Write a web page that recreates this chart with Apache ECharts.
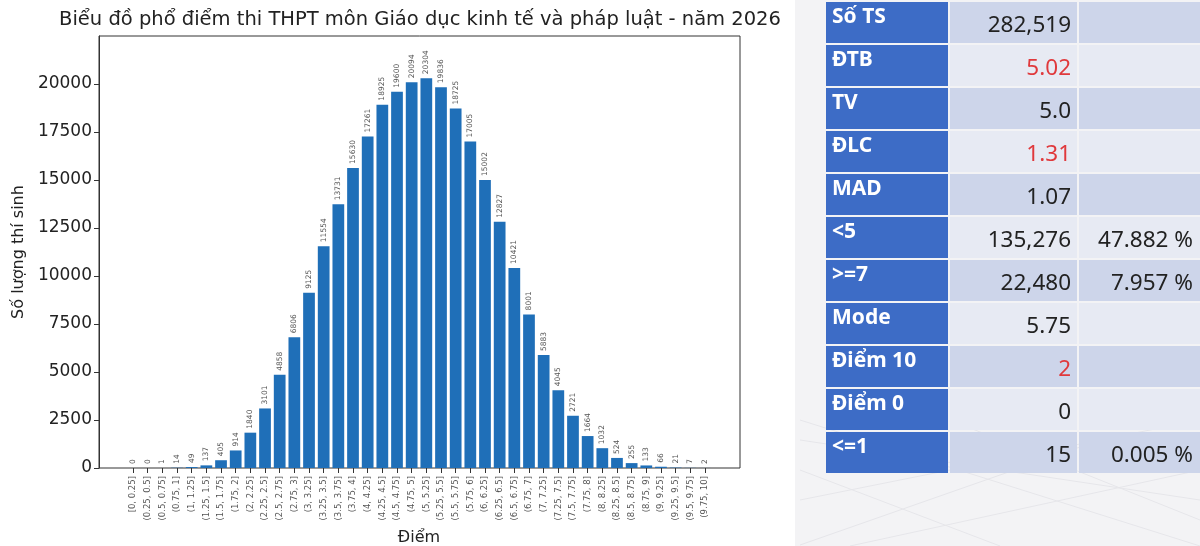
<!DOCTYPE html>
<html>
<head>
<meta charset="utf-8">
<script src="https://cdn.jsdelivr.net/npm/echarts@6/dist/echarts.min.js"></script>
<style>
html,body{margin:0;padding:0;background:#ffffff;}
#chart{width:1200px;height:546px;}
</style>
</head>
<body>
<div id="chart"></div>
<script>
const titleText = 'Biểu đồ phổ điểm thi THPT môn Giáo dục kinh tế và pháp luật - năm 2026';
const xAxisTitle = 'Điểm';
const yAxisTitle = 'Số lượng thí sinh';
const categories = ['[0, 0.25]','(0.25, 0.5]','(0.5, 0.75]','(0.75, 1]','(1, 1.25]','(1.25, 1.5]','(1.5, 1.75]','(1.75, 2]',
  '(2, 2.25]','(2.25, 2.5]','(2.5, 2.75]','(2.75, 3]','(3, 3.25]','(3.25, 3.5]','(3.5, 3.75]','(3.75, 4]',
  '(4, 4.25]','(4.25, 4.5]','(4.5, 4.75]','(4.75, 5]','(5, 5.25]','(5.25, 5.5]','(5.5, 5.75]','(5.75, 6]',
  '(6, 6.25]','(6.25, 6.5]','(6.5, 6.75]','(6.75, 7]','(7, 7.25]','(7.25, 7.5]','(7.5, 7.75]','(7.75, 8]',
  '(8, 8.25]','(8.25, 8.5]','(8.5, 8.75]','(8.75, 9]','(9, 9.25]','(9.25, 9.5]','(9.5, 9.75]','(9.75, 10]'];
const counts = [0,0,1,14,49,137,405,914,1840,3101,4858,6806,9125,11554,13731,15630,17261,18925,19600,20094,
  20304,19836,18725,17005,15002,12827,10421,8001,5883,4045,2721,1664,1032,524,255,133,66,21,7,2];
const yTicks = [0,2500,5000,7500,10000,12500,15000,17500,20000];
const yMin = 0, yMax = 22500, yStep = 2500;

const tableLabels = ['Số TS','ĐTB','TV','ĐLC','MAD','<5','>=7','Mode','Điểm 10','Điểm 0','<=1'];
const tableValues = ['282,519','5.02','5.0','1.31','1.07','135,276','22,480','5.75','2','0','15'];
const tablePercents = ['','','','','','47.882 %','7.957 %','','','','0.005 %'];
const tableRedRows = ['ĐTB','ĐLC','Điểm 10'];

const chart = echarts.init(document.getElementById('chart'), null, {renderer:'canvas'});

// Table drawn as graphic elements
const tbl = {x0:826, c1:950, c2:1079, x1:1202, y0:2, rowH:43, gap:2};
const graphics = [];
graphics.push({type:'rect', silent:true, z:-10, shape:{x:795,y:0,width:405,height:546}, style:{fill:'#f3f3f5'}});
const floorLines = [[800,500,1200,420],[800,420,1200,546],[850,546,1200,470],[800,470,1000,546],[950,420,1200,520],[800,545,1100,440],[800,440,1200,500]];
floorLines.forEach(l=>graphics.push({type:'line', silent:true, z:-9, shape:{x1:l[0],y1:l[1],x2:l[2],y2:l[3]}, style:{stroke:'#e6e6ea',lineWidth:1}}));
tableLabels.forEach((lab,i)=>{
  const top = tbl.y0 + i*tbl.rowH;
  const h = tbl.rowH - tbl.gap;
  const rowFill = (i%2===0) ? '#cdd5ea' : '#e7eaf3';
  graphics.push({type:'rect', silent:true, shape:{x:tbl.x0,y:top,width:tbl.c1-tbl.x0-tbl.gap,height:h}, style:{fill:'#3d6cc6'}});
  graphics.push({type:'rect', silent:true, shape:{x:tbl.c1,y:top,width:tbl.c2-tbl.c1-tbl.gap,height:h}, style:{fill:rowFill}});
  graphics.push({type:'rect', silent:true, shape:{x:tbl.c2,y:top,width:tbl.x1-tbl.c2,height:h}, style:{fill:rowFill}});
  graphics.push({type:'text', silent:true, x:tbl.x0+6, y:top+15, style:{text:lab, fill:'#ffffff', font:'bold 21px "Noto Sans", "Open Sans", sans-serif', textAlign:'left', textVerticalAlign:'middle'}});
  graphics.push({type:'text', silent:true, x:tbl.c2-8, y:top+24, style:{text:tableValues[i], fill: tableRedRows.indexOf(lab)>=0 ? '#e0393c' : '#222222', font:'22.5px "Noto Sans", "Open Sans", sans-serif', textAlign:'right', textVerticalAlign:'middle'}});
  if (tablePercents[i]) {
    graphics.push({type:'text', silent:true, x:1193, y:top+24, style:{text:tablePercents[i], fill:'#222222', font:'22.5px "Noto Sans", "Open Sans", sans-serif', textAlign:'right', textVerticalAlign:'middle'}});
  }
});
graphics.push({type:'text', silent:true, x:420, y:20, style:{text:titleText, fill:'#222222', font:'19.5px "DejaVu Sans", sans-serif', textAlign:'center', textVerticalAlign:'middle'}});

const option = {
  backgroundColor:'#ffffff',
  animation:false,
  textStyle:{fontFamily:'"DejaVu Sans", sans-serif'},
  grid:[
    {left:99, right:460, top:36, bottom:78, show:true, borderColor:'#333333', borderWidth:1, backgroundColor:'transparent', containLabel:false, outerBoundsMode:'none'},
    {left:125.7, right:487.7, top:36, bottom:78, containLabel:false, outerBoundsMode:'none'}
  ],
  xAxis:[
    {type:'value', gridIndex:0, min:0, max:1, show:false},
    {type:'category', gridIndex:1, data:categories,
     axisLine:{show:false},
     axisTick:{show:true, alignWithLabel:true, length:5, lineStyle:{color:'#333333'}},
     axisLabel:{rotate:90, fontSize:8.5, color:'#555555', interval:0, margin:8, hideOverlap:false},
     name:xAxisTitle, nameLocation:'middle', nameGap:62, nameTextStyle:{fontSize:16, color:'#222222'}}
  ],
  yAxis:[
    {type:'value', gridIndex:0, min:yMin, max:yMax, interval:yStep,
     axisLine:{show:true, lineStyle:{color:'#333333'}},
     axisTick:{show:true, length:5, lineStyle:{color:'#333333'}, customValues:yTicks},
     splitLine:{show:false},
     axisLabel:{fontSize:17, color:'#222222', margin:7, customValues:yTicks, formatter:v => String(v)},
     name:yAxisTitle, nameLocation:'middle', nameGap:72, nameTextStyle:{fontSize:16, color:'#222222'}},
    {type:'value', gridIndex:1, min:yMin, max:yMax, interval:yStep, show:false, splitLine:{show:false}}
  ],
  series:[{
    type:'bar', xAxisIndex:1, yAxisIndex:1, data:counts, barWidth:'80%',
    itemStyle:{color:'#1f6fb8'},
    label:{show:true, position:'top', rotate:90, align:'left', verticalAlign:'middle', distance:4, fontSize:7.5, color:'#555555'}
  }],
  graphic:graphics
};
chart.setOption(option);
</script>
</body>
</html>
